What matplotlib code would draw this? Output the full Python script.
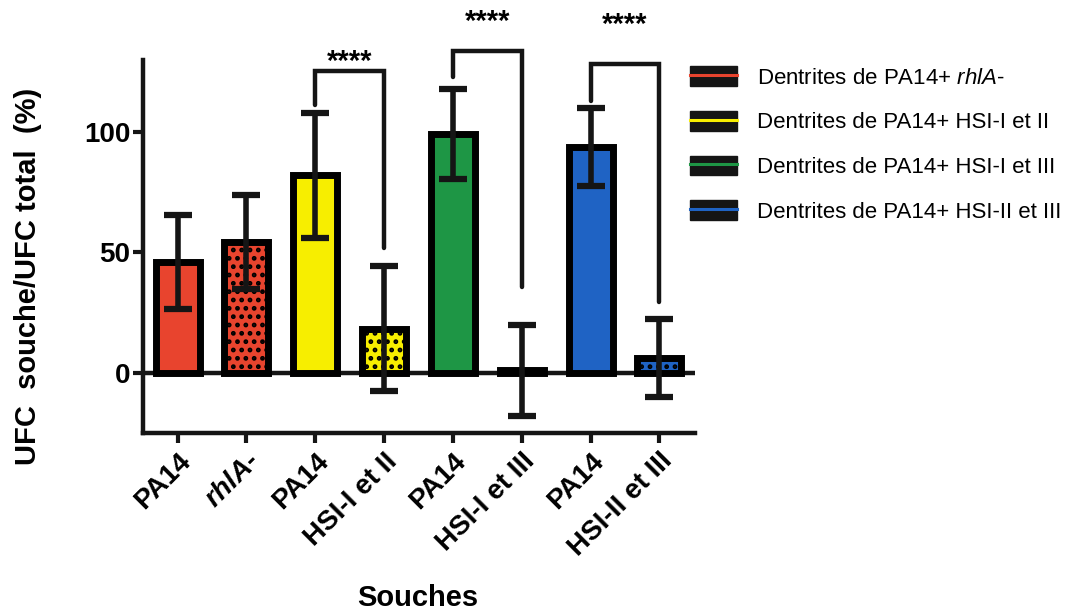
import matplotlib
matplotlib.use("Agg")
import matplotlib.pyplot as plt
from matplotlib.patches import Patch
from matplotlib.lines import Line2D
from matplotlib.legend_handler import HandlerTuple

plt.rcParams['font.family'] = ['Liberation Sans', 'DejaVu Sans']
plt.rcParams['mathtext.fontset'] = 'custom'
plt.rcParams['mathtext.it'] = 'Liberation Sans:italic'
plt.rcParams['mathtext.bf'] = 'Liberation Sans:bold:italic'
plt.rcParams['hatch.linewidth'] = 2.2

# Data
categories = ['PA14', r'$\mathbf{rhlA}$-', 'PA14', 'HSI-I et II',
              'PA14', 'HSI-I et III', 'PA14', 'HSI-II et III']
means = [46, 54.5, 82, 18.3, 99.3, 1.0, 94.0, 6.0]
errors = [19.6, 19.5, 26, 26.1, 18.7, 19, 16.2, 16.2]
colors = ['#e8442e', '#e8442e', '#f7ee00', '#f7ee00',
          '#1e9645', '#1e9645', '#1f63c4', '#1f63c4']
hatches = [None, '..', None, '..', None, '..', None, '..']

legend_labels = [r'Dentrites de PA14+ $\it{rhlA}$-',
                 'Dentrites de PA14+ HSI-I et II',
                 'Dentrites de PA14+ HSI-I et III',
                 'Dentrites de PA14+ HSI-II et III']
legend_colors = ['#e8442e', '#f7ee00', '#1e9645', '#1f63c4']

# Significance brackets: (left bar, right bar, left leg bottom, right leg bottom, bracket height)
brackets = [(2, 3, 111.4, 51.7, 125.6),
            (4, 5, 122.9, 35.7, 133.6),
            (6, 7, 112.8, 29.2, 128.3)]
star_labels = ['****', '****', '****']
star_y = [125.8, 142.5, 141.3]

fig = plt.figure(figsize=(10.68, 6.13), dpi=100)
ax = fig.add_axes([0.134, 0.294, 0.517, 0.608])

x = list(range(len(categories)))
for i in x:
    ax.bar(i, means[i], width=0.64, color=colors[i], edgecolor='black',
           linewidth=5, hatch=hatches[i], zorder=2)
ax.errorbar(x, means, yerr=errors, fmt='none', ecolor='#151515',
            elinewidth=4, capsize=10, capthick=4.5, zorder=3)

for (a, b, ya, yb, h), lab, sy in zip(brackets, star_labels, star_y):
    ax.plot([a, a, b, b], [ya, h, h, yb], color='#151515', lw=3.2,
            solid_joinstyle='miter', solid_capstyle='round', clip_on=False, zorder=4)
    ax.text((a + b) / 2, sy, lab, ha='center', va='baseline', fontsize=21,
            fontweight='bold', clip_on=False)

ax.axhline(0, color='#151515', lw=3.2, zorder=1)

ax.set_xlim(-0.5, 7.52)
ax.set_ylim(-25, 130)
ax.set_yticks([0, 50, 100])
ax.set_xticks(x)
ax.set_xticklabels(categories, rotation=45, ha='right', rotation_mode='anchor',
                   fontsize=20, fontweight='bold')
for lab in ax.get_yticklabels():
    lab.set_fontsize(20)
    lab.set_fontweight('bold')

for side in ['top', 'right']:
    ax.spines[side].set_visible(False)
for side in ['left', 'bottom']:
    ax.spines[side].set_linewidth(3.2)
    ax.spines[side].set_color('#151515')
ax.tick_params(axis='both', width=3, length=7, color='#151515', pad=2)
ax.tick_params(axis='x', pad=4)

ax.set_ylabel('UFC  souche/UFC total  (%)', fontsize=21, fontweight='bold')
ax.yaxis.set_label_coords(-0.183, 0.42)
ax.set_xlabel('Souches', fontsize=21, fontweight='bold')
ax.xaxis.set_label_coords(0.497, -0.405)

handles = [(Patch(facecolor='#151515', edgecolor='#151515'),
            Line2D([0], [0], color=c, lw=2.2)) for c in legend_colors]
leg = fig.legend(handles, legend_labels, loc='upper left',
                 bbox_to_anchor=(690 / 1068, 1 - 66 / 613),
                 frameon=False, fontsize=16, borderpad=0, borderaxespad=0,
                 handler_map={tuple: HandlerTuple(ndivide=1, pad=0)},
                 handlelength=2.1, handleheight=1.0, handletextpad=0.9,
                 labelspacing=1.0)

fig.savefig('out.png', dpi=100)
